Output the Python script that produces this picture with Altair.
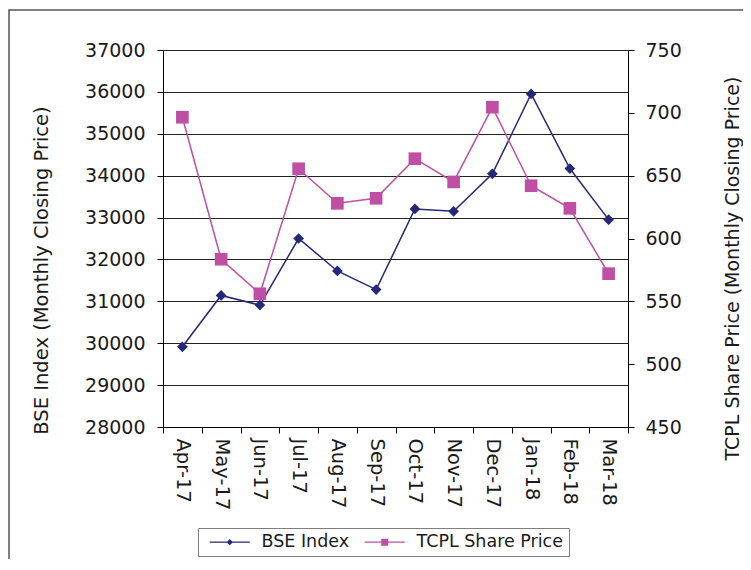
import altair as alt
import pandas as pd

months = ["Apr-17", "May-17", "Jun-17", "Jul-17", "Aug-17", "Sep-17",
          "Oct-17", "Nov-17", "Dec-17", "Jan-18", "Feb-18", "Mar-18"]
bse = [29915, 31140, 30910, 32500, 31725, 31280, 33205, 33150, 34045, 35950, 34170, 32950]
tcpl = [696.5, 583.5, 556, 655.5, 628, 632, 663.5, 645, 704.5, 642, 624, 572]
series = ["BSE Index", "TCPL Share Price"]
colors = ["#27277A", "#BE4FA5"]
left_ticks = [28000, 29000, 30000, 31000, 32000, 33000, 34000, 35000, 36000, 37000]
right_ticks = [450, 500, 550, 600, 650, 700, 750]

df = pd.DataFrame({"month": months, "bse": bse, "tcpl": tcpl})

FONT = "DejaVu Sans"
TXT = "#1a1a1a"

x = alt.X("month:N", sort=months, title=None,
          scale=alt.Scale(type="band", paddingInner=0, paddingOuter=0),
          axis=alt.Axis(labelAngle=90, labelFontSize=19.5, labelPadding=5,
                        tickBand="extent", tickSize=6, tickColor="black",
                        domainColor="black", labelColor=TXT, labelFont=FONT))

base = alt.Chart(df)

y_left = alt.Y("bse:Q", title="BSE Index (Monthly Closing Price)",
               scale=alt.Scale(domain=[28000, 37000], nice=False, zero=False),
               axis=alt.Axis(values=left_ticks, grid=True, gridColor="#222222",
                             gridWidth=1, tickSize=6, tickColor="black",
                             domainColor="black", labelPadding=12, labelFontSize=19,
                             labelFont=FONT, labelColor=TXT, format="d",
                             titleFont=FONT, titleFontSize=19.5, titleFontWeight="normal",
                             titleColor=TXT, titlePadding=33, titleY=220))

y_right = alt.Y("tcpl:Q", title="TCPL Share Price (Monthly Closing Price)",
                scale=alt.Scale(domain=[450, 750], nice=False, zero=False),
                axis=alt.Axis(orient="right", values=right_ticks, grid=False,
                              tickSize=6, tickColor="black", domainColor="black",
                              labelPadding=11, labelFontSize=19, labelFont=FONT,
                              labelColor=TXT, titleFont=FONT, titleFontSize=19,
                              titleFontWeight="normal", titleColor=TXT,
                              titleAngle=270, titlePadding=61, titleY=218))

frame = alt.Chart(pd.DataFrame({"a": [0]})).mark_rect(
    fill=None, stroke="#555555", strokeWidth=1.5).encode(
    x=alt.value(-154), x2=alt.value(640), y=alt.value(-40), y2=alt.value(600))

bse_line = base.mark_line(color=colors[0], strokeWidth=1.5).encode(x=x, y=y_left)
bse_pts = base.mark_point(shape="diamond", filled=True, size=115, color=colors[0],
                          opacity=1).encode(x=x, y=y_left)
left = alt.layer(frame, bse_line, bse_pts)

tcpl_line = base.mark_line(color=colors[1], strokeWidth=1.5).encode(x=x, y=y_right)
tcpl_pts = base.mark_point(shape="square", filled=True, size=160, color=colors[1],
                           opacity=1).encode(x=x, y=y_right)

legend_paths = [
    "M-2.86,-0.08L2.86,-0.08L2.86,0.08L-2.86,0.08Z M0,-0.45L0.45,0L0,0.45L-0.45,0Z",
    "M-2.86,-0.08L2.86,-0.08L2.86,0.08L-2.86,0.08Z M-0.5,-0.5L0.5,-0.5L0.5,0.5L-0.5,0.5Z",
]
legend_df = pd.DataFrame({"series": series, "month": [months[0], months[0]]})
legend_layer = alt.Chart(legend_df).transform_filter("false").mark_point(
    filled=True, opacity=1).encode(
    x=x,
    color=alt.Color("series:N",
                    scale=alt.Scale(domain=series, range=colors),
                    legend=alt.Legend(title=None, orient="none", legendX=35, legendY=478,
                                      direction="horizontal", columns=2,
                                      strokeColor="#7f7f7f", padding=5,
                                      symbolSize=196, symbolStrokeWidth=0,
                                      symbolOffset=18, labelOffset=23,
                                      labelFontSize=17.5, labelFont=FONT, labelColor=TXT,
                                      columnPadding=8)),
    shape=alt.Shape("series:N", scale=alt.Scale(domain=series, range=legend_paths)),
)

right = alt.layer(tcpl_line, tcpl_pts, legend_layer)

chart = alt.layer(left, right).resolve_scale(y="independent").properties(
    width=465, height=377,
    autosize=alt.AutoSizeParams(type="none"),
    padding={"left": 155, "top": 42, "right": 115, "bottom": 132},
).configure_view(stroke="black", strokeWidth=1).configure(background="white")

chart.save("out.html", embed_options={"renderer": "svg", "actions": False})
